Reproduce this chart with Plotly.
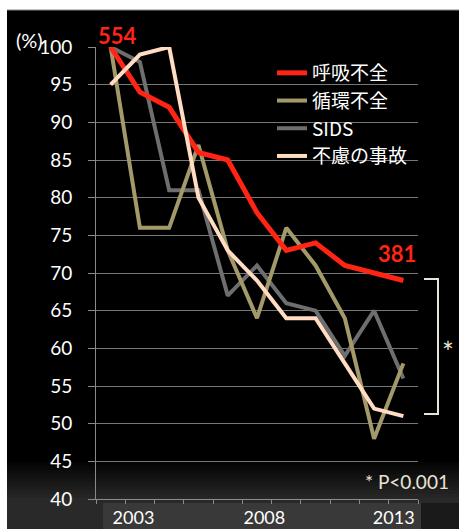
import plotly.graph_objects as go

years = [2003, 2004, 2005, 2006, 2007, 2008, 2009, 2010, 2011, 2012, 2013]
resp = [100, 94, 92, 86, 85, 78, 73, 74, 71, 70, 69]      # 呼吸不全
circ = [100, 76, 76, 87, 73, 64, 76, 71, 64, 48, 58]      # 循環不全
sids = [100, 98, 81, 81, 67, 71, 66, 65, 59, 65, 56]      # SIDS
accid = [95, 99, 100, 80, 73, 69, 64, 64, 58, 52, 51]     # 不慮の事故

series_names = ["呼吸不全", "循環不全", "SIDS", "不慮の事故"]
y_ticks = list(range(40, 101, 5))
x_tick_labels = ["2003", "2008", "2013"]
x_tick_offsets = [0.78, 0.25, -0.33]
n_start, n_end = "554", "381"

RED = "#FF2414"
OLIVE = "#A39A6B"
GRAY = "#6E6E6E"
PEACH = "#FFDCC2"
CJK = "Noto Sans CJK JP"

fig = go.Figure()
specs = [
    (sids, series_names[2], GRAY, 4, 3),
    (circ, series_names[1], OLIVE, 4, 2),
    (resp, series_names[0], RED, 5, 1),
    (accid, series_names[3], PEACH, 4, 4),
]
for vals, name, col, w, rank in specs:
    fig.add_trace(go.Scatter(x=years, y=vals, name=name, mode="lines",
                             line=dict(color=col, width=w), legendrank=rank))

W, H = 459, 529
ml, mr, mt, mb = 96, 41, 47, 30
pw, ph = W - ml - mr, H - mt - mb
def py(px):  # pixel y -> paper y
    return (H - mb - px) / ph
def pxx(px):
    return (px - ml) / pw

shapes = []
# bottom gradient approximation
for k in range(10):
    y0 = 462 + k * 4
    shapes.append(dict(type="rect", xref="paper", yref="paper", x0=pxx(0), x1=pxx(W),
                       y0=py(H), y1=py(y0), fillcolor="rgba(255,255,255,0.02)",
                       line_width=0, layer="below"))
shapes.append(dict(type="rect", xref="paper", yref="paper", x0=pxx(103), x1=pxx(421),
                   y0=py(H), y1=py(503), fillcolor="rgba(255,255,255,0.08)",
                   line_width=0, layer="below"))
shapes.append(dict(type="rect", xref="paper", yref="paper", x0=pxx(421), x1=pxx(W),
                   y0=py(H), y1=py(503), fillcolor="rgba(0,0,0,0.35)",
                   line_width=0, layer="below"))
# white slide edges at left and top
shapes.append(dict(type="rect", xref="paper", yref="paper", x0=pxx(-5), x1=pxx(7),
                   y0=py(H + 5), y1=py(-5), fillcolor="white", line_width=0, layer="above"))
shapes.append(dict(type="rect", xref="paper", yref="paper", x0=pxx(-5), x1=pxx(W + 5),
                   y0=py(10), y1=py(-5), fillcolor="white", line_width=0, layer="above"))
shapes.append(dict(type="line", xref="paper", yref="paper", x0=pxx(7), x1=pxx(W),
                   y0=py(10), y1=py(10), line=dict(color="#888888", width=1), layer="above"))
# bracket
bc = "#E8E4D6"
shapes.append(dict(type="path", xref="paper", yref="paper",
                   path=f"M {pxx(424)},{py(279)} L {pxx(438)},{py(279)} L {pxx(438)},{py(414)} L {pxx(424)},{py(414)}",
                   line=dict(color=bc, width=2), layer="above"))

annotations = [
    dict(text="(%)", x=pxx(29), y=py(40), xref="paper", yref="paper", showarrow=False,
         font=dict(size=20, color="white", family="Lato"), xanchor="center", yanchor="middle"),
    dict(text=f"<b>{n_start}</b>", x=years[0], y=resp[0], xref="x", yref="y", showarrow=False,
         yshift=12, xshift=7, font=dict(size=22, color=RED, family="Lato"), xanchor="center", yanchor="middle"),
    dict(text=f"<b>{n_end}</b>", x=years[-1], y=resp[-1], xref="x", yref="y", showarrow=False,
         yshift=27, xshift=-6, font=dict(size=22, color=RED, family="Lato"), xanchor="center", yanchor="middle"),
    dict(text="*", x=pxx(448), y=py(352), xref="paper", yref="paper", showarrow=False,
         font=dict(size=28, color=bc, family="Lato"), xanchor="center", yanchor="middle"),
    dict(text="* P<0.001", x=pxx(407), y=py(481), xref="paper", yref="paper", showarrow=False,
         font=dict(size=19, color=bc, family="Lato"), xanchor="center", yanchor="middle"),
]

fig.update_layout(
    width=W, height=H,
    margin=dict(l=ml, r=mr, t=mt, b=mb, autoexpand=False),
    paper_bgcolor="black", plot_bgcolor="rgba(0,0,0,0)",
    shapes=shapes, annotations=annotations,
    showlegend=True,
    legend=dict(x=pxx(272), y=py(54), xanchor="left", yanchor="top",
                bgcolor="rgba(0,0,0,0)", font=dict(size=19, color="white", family=CJK),
                tracegroupgap=0, itemwidth=30),
    xaxis=dict(range=[2002.5, 2013.5], showgrid=False, zeroline=False, automargin=False,
               showline=True, linecolor="#8A8A8A", linewidth=1,
               tickvals=[int(t) + o for t, o in zip(x_tick_labels, x_tick_offsets)],
               ticktext=x_tick_labels, ticks="", ticklabelstandoff=2,
               tickfont=dict(size=18, color="white", family="Lato"),
               minor=dict(tick0=2002.5, dtick=1, ticks="outside", ticklen=4,
                          tickcolor="#8A8A8A", showgrid=False)),
    yaxis=dict(range=[40, 100], tickvals=y_ticks, showgrid=True, gridcolor="#777777",
               gridwidth=1, zeroline=False, showline=True, linecolor="#8A8A8A", automargin=False,
               ticks="outside", ticklen=7, tickcolor="#8A8A8A",
               tickfont=dict(size=19, color="white", family="Lato"),
               ticklabelstandoff=12),
)
fig.write_html("out.html")
